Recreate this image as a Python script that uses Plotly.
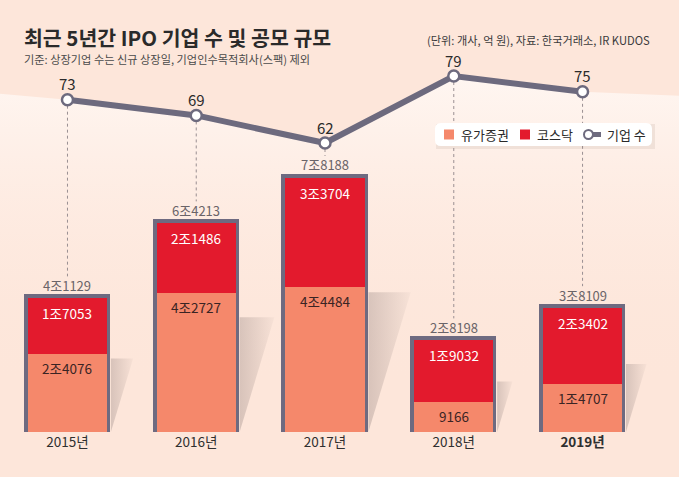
import plotly.graph_objects as go

# ---------------- data ----------------
years = ["2015년", "2016년", "2017년", "2018년", "2019년"]
yuga = [24076, 42727, 44484, 9166, 14707]          # 유가증권 (억 원)
kosdaq = [17053, 21486, 33704, 19032, 23402]       # 코스닥 (억 원)
firms = [73, 69, 62, 79, 75]                       # 기업 수 (개사)

# ---------------- style ----------------
W, H = 679, 477
BG = "#fde6da"
RED = "#e31a2d"
SALMON = "#f5886b"
FRAME = "#6e6a80"
LINEC = "#6d6a7e"
PLOT_BOTTOM = 432  # pixel of bar baseline
BAR_TOP = 132960   # bar-axis value at pixel 0
LINE_RANGE = [-11.35, 98.3]
X_RANGE = [-0.524, 4.749]
BAR_W = 0.614
NUM_FONT = "Noto Sans CJK KR, sans-serif"
KR_FONT = "Noto Sans CJK KR, sans-serif"

xs = list(range(len(years)))
totals = [a + b for a, b in zip(yuga, kosdaq)]


def fmt(v):
    jo, rest = divmod(v, 10000)
    return f"{jo}조{rest:04d}" if jo else f"{rest}"


def bar_to_px(v):
    return PLOT_BOTTOM - v / BAR_TOP * PLOT_BOTTOM


def px_to_line(px):
    lo, hi = LINE_RANGE
    return hi - px / PLOT_BOTTOM * (hi - lo)


def px_to_paper_y(px):
    return (PLOT_BOTTOM - px) / PLOT_BOTTOM


fig = go.Figure()

# light gradient area under the line (bottom layer, axis y)
fig.add_trace(go.Scatter(
    x=[X_RANGE[0]] + xs + [X_RANGE[1]],
    y=[firms[0] + 1.5] + firms + [firms[-1] - 1],
    yaxis="y", mode="lines", line=dict(width=0), fill="tozeroy",
    fillgradient=dict(type="vertical",
                      colorscale=[[0, "rgba(253,230,218,0)"], [0.45, "rgba(254,238,230,0.4)"],
                                  [1, "rgba(255,248,244,0.9)"]]),
    showlegend=False, hoverinfo="skip"))

# dotted drop lines from markers to total labels
for x, f, t in zip(xs, firms, totals):
    end_px = bar_to_px(t) - 22
    fig.add_trace(go.Scatter(
        x=[x, x], y=[f, px_to_line(end_px)], yaxis="y", mode="lines",
        line=dict(color="#9a8f92", width=1, dash="dot"),
        showlegend=False, hoverinfo="skip"))

# line of company counts
fig.add_trace(go.Scatter(
    x=xs, y=firms, yaxis="y", mode="lines+markers", name="기업 수",
    line=dict(color=LINEC, width=6),
    marker=dict(size=11, color="white", line=dict(color=LINEC, width=2.5)),
    showlegend=False, cliponaxis=False))

# 3D-like shadows to the right of bars (bar axis y2)
for x, t in zip(xs, totals):
    h = t * 0.55
    dx = t * 4.2e-6
    xr = x + BAR_W / 2 + 0.03
    fig.add_trace(go.Scatter(
        x=[xr, xr, xr + dx, xr], y=[0, h, h, 0], yaxis="y2", mode="lines", fill="toself",
        fillgradient=dict(type="horizontal", start=xr, stop=xr + dx,
                          colorscale=[[0, "rgba(110,95,95,0.26)"], [1, "rgba(110,95,95,0.04)"]]),
        line=dict(width=0), showlegend=False, hoverinfo="skip"))

# frame bars
fig.add_trace(go.Bar(
    x=xs, y=totals, width=BAR_W, yaxis="y2",
    marker=dict(color=FRAME, line=dict(color=FRAME, width=7)),
    showlegend=False, hoverinfo="skip"))

fig.add_trace(go.Bar(
    x=xs, y=yuga, width=BAR_W, name="유가증권", yaxis="y2",
    marker=dict(color=SALMON, line=dict(width=0)), showlegend=False))
fig.add_trace(go.Bar(
    x=xs, y=kosdaq, base=yuga, width=BAR_W, name="코스닥", yaxis="y2",
    marker=dict(color=RED, line=dict(width=0)), showlegend=False))

annotations = []
# line value labels
for x, f in zip(xs, firms):
    annotations.append(dict(x=x, y=f, xref="x", yref="y", text=str(f), showarrow=False,
                            yshift=16, font=dict(family=NUM_FONT, size=15, color="#2b2b2b")))
# totals
for x, t in zip(xs, totals):
    annotations.append(dict(x=x, y=t, xref="x", yref="y2", text=fmt(t), showarrow=False,
                            yshift=13, font=dict(family=NUM_FONT, size=13, color="#6a6468")))
# inside labels
for x, a, b in zip(xs, yuga, kosdaq):
    annotations.append(dict(x=x, y=a + b, xref="x", yref="y2", text=fmt(b), showarrow=False,
                            yshift=-15, font=dict(family=NUM_FONT, size=13.5, color="white")))
    annotations.append(dict(x=x, y=a, xref="x", yref="y2", text=fmt(a), showarrow=False,
                            yshift=-14, font=dict(family=NUM_FONT, size=13.5, color="#3a2424")))

# titles
annotations.append(dict(x=22 / W, y=px_to_paper_y(37), xref="paper", yref="paper",
                        xanchor="left", yanchor="middle", showarrow=False,
                        text="<b>최근 5년간 IPO 기업 수 및 공모 규모</b>",
                        font=dict(family=KR_FONT, size=20.5, color="#2a2a2a")))
annotations.append(dict(x=22 / W, y=px_to_paper_y(59), xref="paper", yref="paper",
                        xanchor="left", yanchor="middle", showarrow=False,
                        text="기준: 상장기업 수는 신규 상장일, 기업인수목적회사(스팩) 제외",
                        font=dict(family=KR_FONT, size=11.2, color="#4a4a4a")))
annotations.append(dict(x=652 / W, y=px_to_paper_y(40), xref="paper", yref="paper",
                        xanchor="right", yanchor="middle", showarrow=False,
                        text="(단위: 개사, 억 원), 자료: 한국거래소, IR KUDOS",
                        font=dict(family=KR_FONT, size=11.2, color="#3a3a3a")))

# custom legend
shapes = []
lx0, lx1, ly0, ly1 = 435, 652, 123, 146
r = 6


def pp(px, py):
    return f"{px / W},{px_to_paper_y(py)}"


shapes.append(dict(type="rect", xref="paper", yref="paper",
                   x0=(lx0 + 1) / W, x1=(lx1 + 3) / W, y0=px_to_paper_y(ly1 + 3), y1=px_to_paper_y(ly0 + 1),
                   fillcolor="rgba(150,120,110,0.13)", line=dict(width=0), layer="above"))
path = (f"M {pp(lx0 + r, ly0)} L {pp(lx1 - r, ly0)} Q {pp(lx1, ly0)} {pp(lx1, ly0 + r)} "
        f"L {pp(lx1, ly1 - r)} Q {pp(lx1, ly1)} {pp(lx1 - r, ly1)} L {pp(lx0 + r, ly1)} "
        f"Q {pp(lx0, ly1)} {pp(lx0, ly1 - r)} L {pp(lx0, ly0 + r)} Q {pp(lx0, ly0)} {pp(lx0 + r, ly0)} Z")
shapes.append(dict(type="path", xref="paper", yref="paper", path=path,
                   fillcolor="white", line=dict(width=0), layer="above"))
lyc = (ly0 + ly1) / 2
legend_items = [(444, SALMON, "유가증권"), (520, RED, "코스닥")]
for sx, col, txt in legend_items:
    shapes.append(dict(type="rect", xref="paper", yref="paper",
                       x0=sx / W, x1=(sx + 10) / W, y0=px_to_paper_y(lyc + 5), y1=px_to_paper_y(lyc - 5),
                       fillcolor=col, line=dict(width=0), layer="above"))
    annotations.append(dict(x=(sx + 15) / W, y=px_to_paper_y(lyc), xref="paper", yref="paper",
                            xanchor="left", yanchor="middle", showarrow=False, text=txt,
                            font=dict(family=KR_FONT, size=13, color="#2a2a2a")))
# line icon
shapes.append(dict(type="line", xref="paper", yref="paper", x0=590 / W, x1=601 / W,
                   y0=px_to_paper_y(lyc), y1=px_to_paper_y(lyc),
                   line=dict(color=LINEC, width=5), layer="above"))
shapes.append(dict(type="circle", xref="paper", yref="paper", x0=584 / W, x1=593 / W,
                   y0=px_to_paper_y(lyc + 4.5), y1=px_to_paper_y(lyc - 4.5),
                   fillcolor="white", line=dict(color=LINEC, width=2), layer="above"))
annotations.append(dict(x=605 / W, y=px_to_paper_y(lyc), xref="paper", yref="paper",
                        xanchor="left", yanchor="middle", showarrow=False, text="기업 수",
                        font=dict(family=KR_FONT, size=13, color="#2a2a2a")))

ticktext = [f"<b>{y}</b>" if i == len(years) - 1 else y for i, y in enumerate(years)]

fig.update_layout(
    width=W, height=H,
    margin=dict(l=0, r=0, t=0, b=H - PLOT_BOTTOM),
    paper_bgcolor=BG, plot_bgcolor=BG,
    barmode="overlay", bargap=0,
    xaxis=dict(range=X_RANGE, tickvals=xs, ticktext=ticktext, showgrid=False, zeroline=False,
               showline=False, ticks="", tickfont=dict(family=NUM_FONT, size=13.5, color="#2f2f2f"),
               fixedrange=True),
    yaxis=dict(range=LINE_RANGE, visible=False, showgrid=False, zeroline=False),
    yaxis2=dict(range=[0, BAR_TOP], overlaying="y", visible=False, showgrid=False, zeroline=False),
    annotations=annotations, shapes=shapes, showlegend=False,
)

fig.write_html("out.html", post_script="document.body.style.margin='0';",
               config={"displayModeBar": False})
